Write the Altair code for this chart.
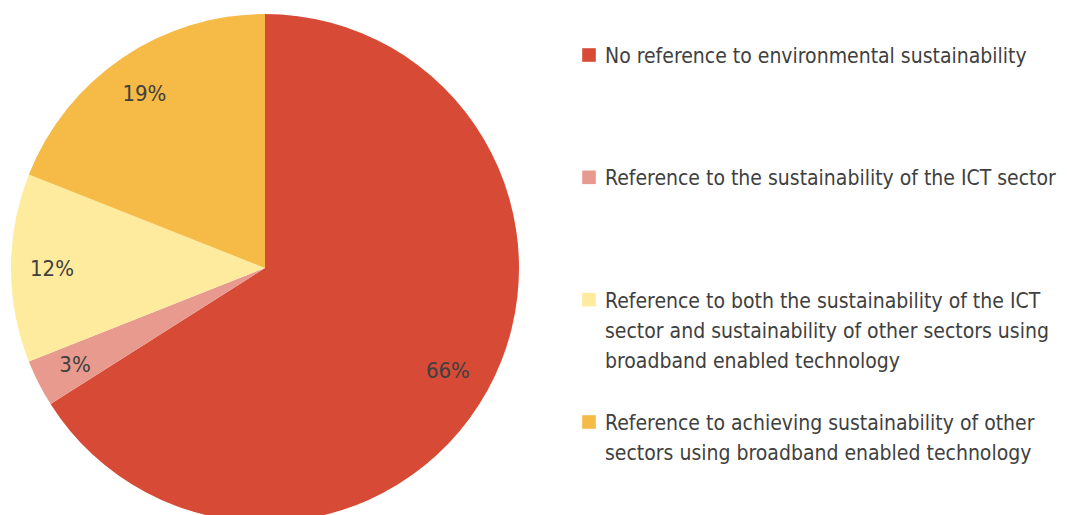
import altair as alt
import pandas as pd

categories = [
    "No reference to environmental sustainability",
    "Reference to the sustainability of the ICT sector",
    "Reference to both the sustainability of the ICT sector and sustainability of other sectors using broadband enabled technology",
    "Reference to achieving sustainability of other sectors using broadband enabled technology",
]
legend_text = [
    "No reference to environmental sustainability",
    "Reference to the sustainability of the ICT sector",
    "Reference to both the sustainability of the ICT\nsector and sustainability of other sectors using\nbroadband enabled technology",
    "Reference to achieving sustainability of other\nsectors using broadband enabled technology",
]
values = [66, 3, 12, 19]
colors = ["#D64A36", "#E99A8F", "#FEEB9E", "#F6BB46"]

FONT = "DejaVu Sans Condensed, sans-serif"
TEXT_COLOR = "#404040"

df = pd.DataFrame({
    "category": categories,
    "value": values,
    "idx": list(range(len(values))),
    "label": [f"{v}%" for v in values],
    "legend": legend_text,
})

color = alt.Color("category:N", scale=alt.Scale(domain=categories, range=colors), legend=None)
theta = alt.Theta("value:Q", stack=True)
order = alt.Order("idx:Q")

pie = alt.Chart(df).mark_arc(radius=254, strokeWidth=0).encode(
    theta=theta, color=color, order=order,
    x=alt.value(257), y=alt.value(260),
)
labels = alt.Chart(df).mark_text(radius=211, font=FONT, fontSize=22, color=TEXT_COLOR).encode(
    theta=theta, order=order, text="label:N",
    x=alt.value(255), y=alt.value(261),
)

yscale = alt.Scale(domain=[0, 3], range=[47, 414])
squares = alt.Chart(df).mark_square(size=185, opacity=1, filled=True).encode(
    x=alt.value(581),
    y=alt.Y("idx:Q", scale=yscale, axis=None),
    color=color,
)
texts = alt.Chart(df).mark_text(
    align="left", baseline="alphabetic", dy=8, font=FONT, fontSize=21,
    lineBreak="\n", lineHeight=30, color=TEXT_COLOR,
).encode(
    x=alt.value(597),
    y=alt.Y("idx:Q", scale=yscale, axis=None),
    text="legend:N",
)

chart = alt.layer(pie, labels, squares, texts).properties(
    width=1051, height=507, padding=0,
    autosize=alt.AutoSizeParams(type="none"),
).configure_view(stroke=None)

chart.save("out.html", embed_options={"renderer": "svg", "actions": False})
